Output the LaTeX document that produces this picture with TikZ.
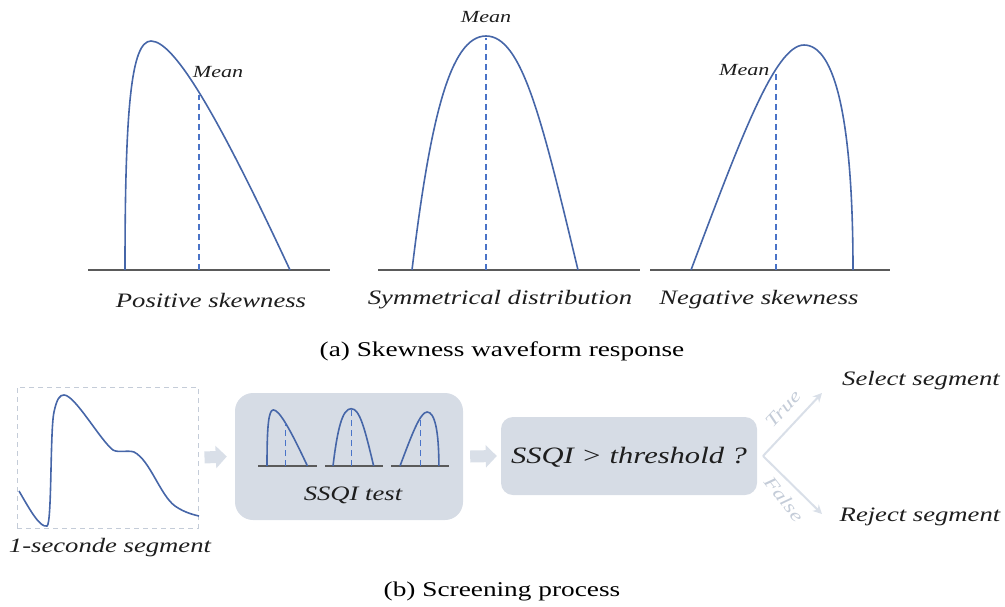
\documentclass[tikz,border=0pt]{standalone}
\usepackage{fontspec}
\setmainfont[FakeStretch=1.3]{Liberation Serif}
\usepackage{tikz}
\usetikzlibrary{arrows.meta}

\definecolor{curveblue}{HTML}{4666A8}
\definecolor{meanblue}{HTML}{4A74C8}
\definecolor{groundgray}{HTML}{5A5A5A}
\definecolor{boxfill}{HTML}{D6DCE5}
\definecolor{arrowfill}{HTML}{D9DFE8}
\definecolor{tfgray}{HTML}{C4CCD8}
\definecolor{inkgray}{HTML}{1E1E1E}

% skewed curves, origin at the left foot, y grows downwards
\newcommand{\posskew}{%
  \draw[wave] (0,0) .. controls (0,-160) and (6,-229) .. (26,-229)
    .. controls (50,-229) and (95,-150) .. (165,0);
  \draw[meanline] (74,0) -- (74,-175);}
\newcommand{\symskew}{%
  \draw[wave] (0,0) .. controls (18,-150) and (38,-234) .. (74,-234)
    .. controls (110,-234) and (130,-150) .. (166,0);
  \draw[meanline] (74,0) -- (74,-232);}
\newcommand{\negskew}{%
  \draw[wave] (0,0) .. controls (49,-130) and (84,-225) .. (113,-225)
    .. controls (144,-225) and (162,-150) .. (162,0);
  \draw[meanline] (85,0) -- (85,-198);}

\begin{document}
\begin{tikzpicture}[x=1pt,y=-1pt,
  wave/.style={curveblue, line width=1.6pt},
  meanline/.style={meanblue, line width=1.2pt, dash pattern=on 6pt off 4pt},
  groundline/.style={groundgray, line width=1.3pt},
  lbl/.style={font=\fontsize{20.5}{24}\selectfont\itshape, text=inkgray},
  meanlbl/.style={font=\fontsize{17}{20}\selectfont\itshape, text=inkgray},
  capt/.style={font=\fontsize{21}{25}\selectfont, text=black},
  segbox/.style={draw=tfgray, dash pattern=on 5pt off 4pt, line width=1pt,
    minimum width=181pt, minimum height=141pt, inner sep=0pt},
  panel/.style={fill=boxfill, rounded corners=18pt, inner sep=0pt},
  blockarrow/.style={arrowfill, line width=12pt, -{Triangle[length=11pt,width=22pt]}},
  branch/.style={arrowfill, line width=2pt, -{Stealth[length=9pt,width=9pt]}},
  tflbl/.style={font=\fontsize{18}{20}\selectfont\itshape, text=tfgray, inner sep=1pt}]
\useasboundingbox (0,0) rectangle (1005,606);

%(a) three curves
\draw[groundline] (88,270) -- (330,270);
\begin{scope}[shift={(125,270)}] \posskew \end{scope}
\node[meanlbl] (mean1) at (218,72) {Mean};
\node[lbl] (pos) at (211,300) {Positive skewness};

\draw[groundline] (378,270) -- (640,270);
\begin{scope}[shift={(412,270)}] \symskew \end{scope}
\node[meanlbl] (mean2) at (486,17) {Mean};
\node[lbl] (sym) at (500,300) {Symmetrical distribution};

\draw[groundline] (650,270) -- (890,270);
\begin{scope}[shift={(691,270)}] \negskew \end{scope}
\node[meanlbl, anchor=east] (mean3) at (773,70) {Mean};
\node[lbl] (neg) at (759,300) {Negative skewness};

\node[capt] (capa) at (502,351) {(a) Skewness waveform response};

%(b) segment
\node[segbox] (seg) at (107.5,457.5) {};
\draw[wave] (19,491) .. controls (30,510) and (40,528) .. (47,526)
  .. controls (52,524) and (50,430) .. (54,412)
  .. controls (57,398) and (60,395) .. (64,395)
  .. controls (75,395) and (100,440) .. (113,450)
  .. controls (118,453) and (128,450) .. (134,452)
  .. controls (150,460) and (160,495) .. (175,506)
  .. controls (185,513) and (195,515) .. (199,516);
\node[lbl] (seglbl) at (110,548) {1-seconde segment};

%SSQI test
\node[panel, minimum width=228pt, minimum height=127pt] (test) at (349,456.5) {};
\draw[groundline] (258,466) -- (317,466);
\draw[groundline] (325,466) -- (383,466);
\draw[groundline] (391,466) -- (449,466);
\begin{scope}[shift={(267,466)}, scale=0.245] \posskew \end{scope}
\begin{scope}[shift={(333,466)}, scale=0.245] \symskew \end{scope}
\begin{scope}[shift={(400,466)}, scale=0.24] \negskew \end{scope}
\node[lbl] (testlbl) at (353,495) {SSQI test};

%threshold
\node[panel, rounded corners=12pt, minimum width=256pt, minimum height=78pt] (cond) at (629,456) {};
\node[lbl, font=\fontsize{23.5}{28}\selectfont\itshape] (condlbl) at (629,457) {SSQI > threshold ?};

\draw[blockarrow] ([xshift=6pt]seg.east) -- ([xshift=-8pt]test.west);
\draw[blockarrow] ([xshift=7pt]test.east) -- ([xshift=-4pt]cond.west);

%outcomes
\node[lbl] (sel) at (921,381) {Select segment};
\node[lbl] (rej) at (920,517) {Reject segment};
\coordinate (fork) at (763,456);
\coordinate (toSel) at (822,393);
\coordinate (toRej) at (822,514);
\draw[branch] (fork) -- (toSel);
\draw[branch] (fork) -- (toRej);
\node[tflbl, rotate=47] (true) at (783,409) {True};
\node[tflbl, rotate=-52] (false) at (784,499) {False};

\node[capt] (capb) at (502,591) {(b) Screening process};
\end{tikzpicture}
\end{document}
